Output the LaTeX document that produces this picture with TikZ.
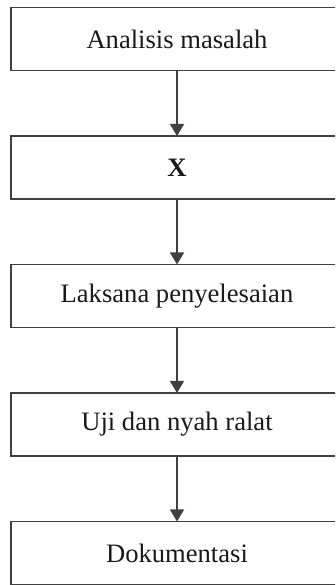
\documentclass[tikz,border=0pt]{standalone}
\usepackage{fontspec}
\setmainfont{Liberation Serif}
\usetikzlibrary{positioning,arrows.meta}
\tikzset{
  stepbox/.style={draw=black!75,line width=1.3pt,minimum width=332pt,minimum height=63pt,
    inner sep=0pt,outer sep=0pt,text=black!90,font=\fontsize{26.6}{30}\selectfont},
  every edge/.style={draw=black!75,line width=1.3pt,-{Triangle[width=14pt,length=12pt]}},
}

\begin{document}
\begin{tikzpicture}[x=1pt,y=1pt,node distance=65.5pt]
\useasboundingbox (0,0) rectangle (335,585);
\clip (0,0) rectangle (335,585);

\node[stepbox] (analisis) at (177,546) {Analisis masalah};
\node[stepbox,below=of analisis] (x) {\textbf{X}};
\node[stepbox,below=of x] (laksana) {Laksana penyelesaian};
\node[stepbox,below=of laksana] (uji) {Uji dan nyah ralat};
\node[stepbox,below=of uji] (dokumentasi) {Dokumentasi};

\path
(analisis) edge (x)
(x) edge (laksana)
(laksana) edge (uji)
(uji) edge (dokumentasi);

\end{tikzpicture}
\end{document}
